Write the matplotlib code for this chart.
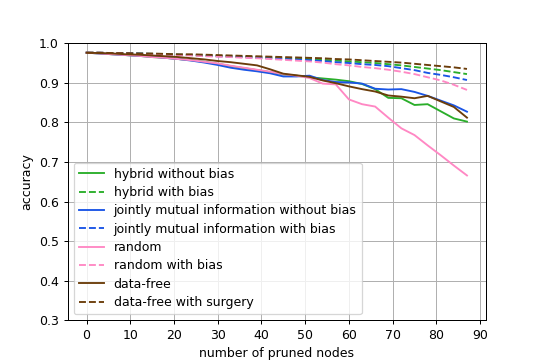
import matplotlib
matplotlib.use("Agg")
import matplotlib.pyplot as plt
import numpy as np

pruned_nodes = list(range(0, 90, 3))

hybrid_without_bias = [0.976, 0.974, 0.972, 0.970, 0.968, 0.965, 0.963, 0.960, 0.957, 0.953,
                       0.948, 0.942, 0.937, 0.932, 0.927, 0.921, 0.918, 0.914, 0.911, 0.908,
                       0.904, 0.897, 0.884, 0.862, 0.861, 0.844, 0.846, 0.828, 0.810, 0.802]
hybrid_with_bias = [0.976, 0.976, 0.975, 0.975, 0.974, 0.973, 0.972, 0.971, 0.970, 0.969,
                    0.968, 0.967, 0.966, 0.965, 0.964, 0.962, 0.961, 0.960, 0.958, 0.956,
                    0.954, 0.952, 0.950, 0.947, 0.944, 0.940, 0.936, 0.932, 0.927, 0.922]
jmi_without_bias = [0.976, 0.974, 0.972, 0.970, 0.968, 0.966, 0.963, 0.960, 0.956, 0.951,
                    0.945, 0.938, 0.933, 0.929, 0.924, 0.916, 0.916, 0.918, 0.907, 0.902,
                    0.901, 0.898, 0.885, 0.883, 0.884, 0.877, 0.867, 0.855, 0.843, 0.827]
jmi_with_bias = [0.976, 0.976, 0.975, 0.975, 0.974, 0.973, 0.972, 0.971, 0.970, 0.968,
                 0.967, 0.966, 0.965, 0.963, 0.962, 0.960, 0.959, 0.957, 0.955, 0.952,
                 0.950, 0.947, 0.945, 0.942, 0.937, 0.932, 0.925, 0.920, 0.914, 0.907]
random_without_bias = [0.976, 0.974, 0.972, 0.970, 0.968, 0.965, 0.963, 0.960, 0.957, 0.953,
                       0.949, 0.943, 0.938, 0.933, 0.928, 0.922, 0.918, 0.912, 0.898, 0.896,
                       0.858, 0.846, 0.840, 0.812, 0.785, 0.768, 0.742, 0.717, 0.691, 0.666]
random_with_bias = [0.976, 0.976, 0.975, 0.974, 0.973, 0.972, 0.971, 0.970, 0.969, 0.967,
                    0.966, 0.965, 0.963, 0.962, 0.960, 0.958, 0.956, 0.954, 0.951, 0.947,
                    0.944, 0.940, 0.937, 0.933, 0.928, 0.922, 0.914, 0.906, 0.895, 0.882]
data_free = [0.976, 0.975, 0.974, 0.972, 0.971, 0.969, 0.967, 0.965, 0.962, 0.959,
             0.955, 0.952, 0.948, 0.944, 0.934, 0.923, 0.919, 0.915, 0.906, 0.899,
             0.891, 0.884, 0.878, 0.868, 0.865, 0.861, 0.867, 0.853, 0.839, 0.812]
data_free_surgery = [0.976, 0.976, 0.975, 0.975, 0.974, 0.974, 0.973, 0.972, 0.972, 0.971,
                     0.970, 0.969, 0.968, 0.967, 0.966, 0.965, 0.964, 0.963, 0.962, 0.960,
                     0.959, 0.957, 0.955, 0.953, 0.951, 0.948, 0.945, 0.942, 0.939, 0.935]

labels = ["hybrid without bias", "hybrid with bias",
          "jointly mutual information without bias", "jointly mutual information with bias",
          "random", "random with bias", "data-free", "data-free with surgery"]

green = "#2aae2a"
blue = "#1a55e6"
pink = "#ff88c4"
brown = "#6b3d0a"

fig, ax = plt.subplots(figsize=(6, 4), dpi=90)
series = [
    (hybrid_without_bias, green, "-"),
    (hybrid_with_bias, green, "--"),
    (jmi_without_bias, blue, "-"),
    (jmi_with_bias, blue, "--"),
    (random_without_bias, pink, "-"),
    (random_with_bias, pink, "--"),
    (data_free, brown, "-"),
    (data_free_surgery, brown, "--"),
]
for (vals, col, ls), lab in zip(series, labels):
    ax.plot(pruned_nodes, vals, color=col, linestyle=ls, label=lab)

ax.set_ylim(0.3, 1.0)
ax.set_xticks(np.arange(0, 100, 10))
ax.set_yticks(np.arange(0.3, 1.01, 0.1))
ax.grid(True)
ax.set_xlabel("number of pruned nodes")
ax.set_ylabel("accuracy")
ax.legend(loc="lower left", labelspacing=0.43)
fig.savefig("out.png", dpi=90)
